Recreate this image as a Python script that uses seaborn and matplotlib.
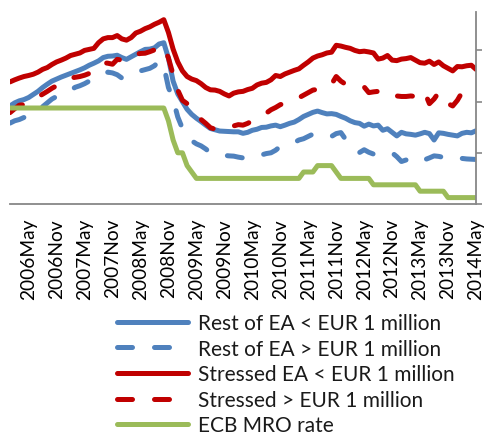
import numpy as np
import pandas as pd
import matplotlib
matplotlib.use("Agg")
import matplotlib.pyplot as plt
import seaborn as sns

# ---- data (monthly, Jan 2006 .. May 2014) ----
months = pd.period_range("2006-01", "2014-05", freq="M")

rest_small = [3.83, 3.95, 4.03, 4.08, 4.16, 4.28, 4.40, 4.55, 4.68, 4.80,
              4.88, 4.96, 5.03, 5.10, 5.17, 5.24, 5.32, 5.42, 5.50, 5.59,
              5.72, 5.77, 5.78, 5.81, 5.72, 5.65, 5.75, 5.85, 5.95, 6.04,
              6.05, 6.10, 6.25, 6.30, 5.70, 4.80, 4.30, 4.00, 3.70, 3.50,
              3.35, 3.22, 3.08, 2.95, 2.90, 2.85, 2.84, 2.83, 2.82, 2.82,
              2.76, 2.80, 2.88, 2.92, 2.99, 3.00, 3.05, 3.08, 3.02, 3.08,
              3.15, 3.20, 3.30, 3.42, 3.50, 3.58, 3.63, 3.57, 3.52, 3.53,
              3.50, 3.42, 3.35, 3.25, 3.18, 3.15, 3.04, 3.12, 3.05, 3.08,
              2.88, 2.94, 2.80, 2.66, 2.80, 2.74, 2.72, 2.69, 2.74, 2.80,
              2.75, 2.50, 2.78, 2.76, 2.72, 2.69, 2.66, 2.76, 2.80, 2.78,
              2.86]

rest_large = [3.16, 3.25, 3.30, 3.38, 3.43, 3.55, 3.70, 3.80, 3.95, 4.10,
              4.20, 4.29, 4.35, 4.45, 4.56, 4.62, 4.70, 4.80, 4.88, 4.95,
              5.05, 5.15, 5.12, 5.05, 4.92, 4.95, 5.05, 5.15, 5.20, 5.25,
              5.30, 5.40, 5.59, 5.40, 4.55, 4.09, 3.40, 2.95, 2.65, 2.47,
              2.35, 2.27, 2.15, 2.00, 1.95, 1.92, 1.90, 1.88, 1.87, 1.83,
              1.80, 1.78, 1.82, 1.88, 1.92, 1.97, 2.00, 2.10, 2.25, 2.28,
              2.35, 2.40, 2.50, 2.55, 2.64, 2.73, 2.76, 2.70, 2.66, 2.64,
              2.75, 2.79, 2.53, 2.35, 2.20, 2.01, 2.12, 2.02, 1.95, 1.91,
              1.95, 1.98, 2.00, 1.85, 1.66, 1.72, 1.82, 1.86, 1.82, 1.73,
              1.80, 1.88, 1.86, 1.82, 1.78, 1.82, 1.77, 1.78, 1.76, 1.75,
              1.74]

stressed_small = [4.77, 4.85, 4.92, 4.98, 5.02, 5.07, 5.15, 5.26, 5.33, 5.45,
                  5.55, 5.62, 5.70, 5.80, 5.85, 5.90, 6.00, 6.04, 6.08, 6.30,
                  6.45, 6.50, 6.50, 6.58, 6.45, 6.40, 6.50, 6.68, 6.75, 6.85,
                  6.92, 7.02, 7.10, 7.20, 6.70, 6.05, 5.55, 5.20, 4.98, 4.88,
                  4.82, 4.70, 4.55, 4.46, 4.45, 4.40, 4.30, 4.22, 4.33, 4.38,
                  4.40, 4.47, 4.52, 4.65, 4.72, 4.75, 4.85, 5.02, 4.98, 5.08,
                  5.15, 5.22, 5.28, 5.42, 5.55, 5.70, 5.78, 5.83, 5.90, 5.93,
                  6.20, 6.17, 6.12, 6.08, 6.00, 5.95, 5.97, 5.94, 5.90, 5.66,
                  5.70, 5.80, 5.62, 5.60, 5.66, 5.68, 5.72, 5.62, 5.52, 5.50,
                  5.58, 5.45, 5.55, 5.40, 5.30, 5.20, 5.37, 5.36, 5.40, 5.42,
                  5.26]

stressed_large = [3.57, 3.72, 3.86, 3.88, 3.92, 4.05, 4.18, 4.29, 4.40, 4.52,
                  4.62, 4.70, 4.82, 4.92, 4.95, 4.98, 5.03, 5.10, 5.25, 5.40,
                  5.52, 5.50, 5.46, 5.65, 5.62, 5.59, 5.72, 5.85, 5.88, 5.89,
                  5.95, 6.02, 6.05, 6.17, 5.70, 5.05, 4.45, 4.05, 3.92, 3.75,
                  3.50, 3.30, 3.15, 2.98, 2.92, 2.98, 3.05, 3.06, 3.05, 3.10,
                  3.08, 3.15, 3.25, 3.35, 3.45, 3.55, 3.68, 3.77, 3.88, 3.94,
                  3.97, 4.05, 4.15, 4.25, 4.35, 4.45, 4.48, 4.50, 4.62, 4.68,
                  4.98, 4.80, 4.68, 4.62, 4.60, 4.59, 4.57, 4.35, 4.38, 4.40,
                  4.38, 4.40, 4.38, 4.22, 4.20, 4.20, 4.22, 4.20, 4.16, 4.36,
                  3.92, 4.10, 4.36, 4.10, 3.92, 3.83, 4.05, 4.36, 4.35, 4.15,
                  3.98]

ecb_mro = ([3.75] * 34 + [3.25, 2.5, 2.0, 2.0, 1.5, 1.25] + [1.0] * 23 +
           [1.25] * 3 + [1.5] * 4 + [1.25] + [1.0] * 7 + [0.75] * 10 +
           [0.5] * 6 + [0.25] * 7)

series_names = ["Rest of EA < EUR 1 million", "Rest of EA > EUR 1 million",
                "Stressed EA < EUR 1 million", "Stressed > EUR 1 million",
                "ECB MRO rate"]
series_values = [rest_small, rest_large, stressed_small, stressed_large, ecb_mro]
colors = ["#4F81BD", "#4F81BD", "#C00000", "#C00000", "#9BBB59"]
dashed = [False, True, False, True, False]

tick_labels = [f"{p.year}{p.strftime('%b')}" for p in months]

# ---- plotting ----
sns.set_style("white")
plt.rcParams["font.family"] = ["Lato", "DejaVu Sans"]

W, H = 484, 435
fig = plt.figure(figsize=(W / 100, H / 100), dpi=100)
ax = fig.add_axes([10 / W, 1 - 205 / H, 466 / W, 192 / H])

x = np.arange(len(months))
handles = []
for name, vals, col, d in zip(series_names, series_values, colors, dashed):
    sns.lineplot(x=x, y=vals, ax=ax, color=col, linewidth=3.6, label=name,
                 legend=False)
    ln = ax.lines[-1]
    ln.set_solid_capstyle("round")
    ln.set_solid_joinstyle("round")
    if d:
        ln.set_dashes((3.0, 4.4))
        ln.set_dash_capstyle("round")
    handles.append(ln)

ax.set_xlim(0, len(months) - 1)
ax.set_ylim(0, 7.5)

# spines
gray = "#878787"
for s in ["left", "top"]:
    ax.spines[s].set_visible(False)
for s in ["right", "bottom"]:
    ax.spines[s].set_visible(True)
    ax.spines[s].set_color(gray)
    ax.spines[s].set_linewidth(1.3)

# x ticks every 3 months, labels every 6 months (May / Nov)
xt = [i for i in x if months[i].month in (2, 5, 8, 11)]
ax.set_xticks(xt)
ax.set_xticklabels([tick_labels[i] if months[i].month in (5, 11) else "" for i in xt],
                   rotation=90, fontsize=13.8, color="black")
ax.tick_params(axis="x", direction="out", length=4, width=1.2, color=gray, pad=6)

ax.yaxis.tick_right()
ax.set_yticks([0, 2, 4, 6])
ax.set_yticklabels([])
ax.tick_params(axis="y", direction="out", length=4, width=1.2, color=gray, right=True, left=False)
ax.set_xlabel("")
ax.set_ylabel("")
ax.grid(False)

fs = 15
fs_px = fs * 100 / 72
leg = fig.legend(handles, series_names, loc="upper left",
                 bbox_to_anchor=(117 / W, 1 - 314 / H), frameon=False,
                 fontsize=fs, handlelength=71 / fs_px, handletextpad=10 / fs_px,
                 labelspacing=0.27, borderpad=0, borderaxespad=0)
for t in leg.get_texts():
    t.set_color("#1a1a1a")

fig.savefig("out.png", dpi=100)
